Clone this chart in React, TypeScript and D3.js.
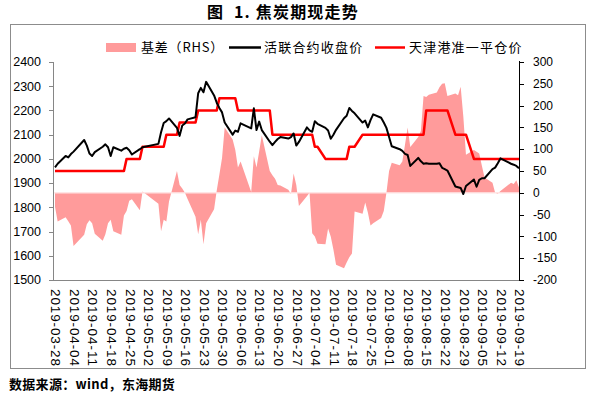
import React from 'react';
import * as d3 from 'd3';

const START = '2019-03-28';
const END = '2019-09-19';
const HOLIDAYS = ['2019-04-05', '2019-05-01', '2019-05-02', '2019-05-03', '2019-06-07', '2019-09-13'];

// 活跃合约收盘价 (one value per trading day)
const futuresClose = [
  1965, 1980,
  2012, 2006, 2020, 2030,
  2078, 2055, 2022, 2012, 2028,
  2050, 2060, 2048, 2012, 2048,
  2034, 2042, 2046, 2036, 2018,
  2040, 2048,
  2062, 2110, 2148, 2156, 2167,
  2128, 2095, 2138, 2146, 2163,
  2172, 2271, 2293, 2275, 2318,
  2262, 2232, 2210, 2192, 2150,
  2100, 2117, 2112, 2147,
  2126, 2209, 2119, 2154, 2119,
  2071, 2057, 2070, 2082, 2090,
  2084, 2090, 2105, 2055, 2070,
  2130, 2118, 2112, 2155, 2145,
  2128, 2117, 2083, 2100, 2120,
  2168, 2178, 2210, 2198, 2188,
  2150, 2158, 2130, 2160, 2184,
  2170, 2150, 2128, 2090, 2052,
  2040, 2033, 2021, 2016, 1971,
  2004, 1990, 1980, 1982, 1980,
  1980, 1982, 1963, 1958, 1952,
  1886, 1883, 1880, 1855, 1888,
  1915, 1885, 1913, 1920, 1920,
  1958, 1964, 1982, 2002,
  1980, 1976, 1971, 1961,
];

// 天津港准一平仓价
const spotPrice = [
  1950, 1950,
  1950, 1950, 1950, 1950,
  1950, 1950, 1950, 1950, 1950,
  1950, 1950, 1950, 1950, 1950,
  1950, 1950, 2000, 2000, 2000,
  2000, 2050,
  2050, 2050, 2050, 2100, 2100,
  2100, 2150, 2150, 2150, 2150,
  2150, 2200, 2200, 2200, 2200,
  2200, 2200, 2250, 2250, 2250,
  2250, 2250, 2200, 2200,
  2200, 2200, 2200, 2200, 2200,
  2200, 2100, 2100, 2100, 2100,
  2100, 2100, 2100, 2100, 2100,
  2100, 2100, 2100, 2050, 2050,
  2000, 2000, 2000, 2000, 2000,
  2000, 2000, 2050, 2050, 2050,
  2100, 2100, 2100, 2100, 2100,
  2100, 2100, 2100, 2100, 2100,
  2100, 2100, 2100, 2100, 2100,
  2100, 2100, 2100, 2200, 2200,
  2200, 2200, 2200, 2200, 2200,
  2100, 2100, 2100, 2100, 2100,
  2000, 2000, 2000, 2000, 2000,
  2000, 2000, 2000, 2000,
  2000, 2000, 2000, 2000,
];

// 基差 (RHS)
const basis = [
  -32, -66,
  -56, -65, -75, -122,
  -96, -72, -63, -70, -94,
  -110, -95, -70, -62, -88,
  -96, -52, -42, -18, -15,
  -40, 3,
  -25, -88, -62, -66, -20,
  50, 18, 10, 0, -14,
  -55, -95, -62, -118, -70,
  -38, 5, 42, 80, 150,
  122, 98, 58, 72,
  2, 84, 58, 95, 132,
  50, 40, 32, 18, 17,
  7, -3, 44, 18, -30,
  -8, 0, -93, -100, -117,
  -118, -82, -100, -130, -165,
  -173, -160, -148, -139, -43,
  -48, -22, -45, -75, -70,
  -58, -42, 0, 50, 69,
  63, 72, 110, 150, 105,
  128, 142, 222, 220, 225,
  230, 242, 250, 251, 222,
  228, 224, 243, 175, 87,
  98, 94, 90, 62, 35,
  23, 0, -2, 4,
  23, 20, 29, 12,
];

const xTickLabels = [
  '2019-03-28', '2019-04-04', '2019-04-11', '2019-04-18', '2019-04-25', '2019-05-02',
  '2019-05-09', '2019-05-16', '2019-05-23', '2019-05-30', '2019-06-06', '2019-06-13',
  '2019-06-20', '2019-06-27', '2019-07-04', '2019-07-11', '2019-07-18', '2019-07-25',
  '2019-08-01', '2019-08-08', '2019-08-15', '2019-08-22', '2019-08-29', '2019-09-05',
  '2019-09-12', '2019-09-19',
];
const leftTicks = [1500, 1600, 1700, 1800, 1900, 2000, 2100, 2200, 2300, 2400];
const rightTicks = [-200, -150, -100, -50, 0, 50, 100, 150, 200, 250, 300];

const parse = d3.utcParse('%Y-%m-%d');
const fmt = d3.utcFormat('%Y-%m-%d');

function tradingDays(): Date[] {
  const all = d3.utcDay.range(parse(START)!, d3.utcDay.offset(parse(END)!, 1));
  return all.filter((d) => d.getUTCDay() !== 0 && d.getUTCDay() !== 6 && !HOLIDAYS.includes(fmt(d)));
}

const NUM_FONT = '"Liberation Sans", Arial, sans-serif';
const CJK_FONT = '"Noto Sans CJK SC", "Noto Sans", sans-serif';

export default function App() {
  const days = tradingDays();
  const n = Math.min(days.length, futuresClose.length, spotPrice.length, basis.length);
  const rows = d3.range(n).map((i) => ({
    date: days[i],
    fut: futuresClose[i],
    spot: spotPrice[i],
    basis: basis[i],
  }));

  const plotLeft = 53;
  const plotRight = 519;
  const plotTop = 62;
  const plotBottom = 280;

  const x = d3.scaleUtc().domain([parse(START)!, parse(END)!]).range([55, 519]);
  const yL = d3.scaleLinear().domain([1500, 2400]).range([plotBottom, plotTop]);
  const yR = d3.scaleLinear().domain([-200, 300]).range([plotBottom, plotTop]);

  const area = d3
    .area<typeof rows[number]>()
    .x((d) => x(d.date))
    .y0(yR(0))
    .y1((d) => yR(d.basis));
  const futLine = d3
    .line<typeof rows[number]>()
    .x((d) => x(d.date))
    .y((d) => yL(d.fut));
  const spotLine = d3
    .line<typeof rows[number]>()
    .x((d) => x(d.date))
    .y((d) => yL(d.spot));

  return (
    <svg
      width={591}
      height={393}
      style={{ position: 'absolute', left: 0, top: 0, background: '#fff' }}
      xmlns="http://www.w3.org/2000/svg"
    >
      <rect x={0} y={0} width={591} height={393} fill="#fff" />
      {/* title */}
      <text
        x={283}
        y={18}
        textAnchor="middle"
        fontFamily={CJK_FONT}
        fontSize={16}
        fontWeight="bold"
        letterSpacing={1.2}
        fill="#000"
        style={{ whiteSpace: 'pre' }}
      >
        {'图  1. 焦炭期现走势'}
      </text>
      {/* frame */}
      <rect x={10.5} y={24.5} width={575} height={344} fill="none" stroke="#8c8c8c" strokeWidth={1} />

      {/* legend */}
      <rect x={106} y={43} width={30} height={9} fill="#ff9b9b" />
      <text x={141} y={52} fontFamily={CJK_FONT} fontSize={13} letterSpacing={0.8} fill="#000">
        基差（RHS）
      </text>
      <line x1={229} x2={261} y1={47.5} y2={47.5} stroke="#000" strokeWidth={2.5} />
      <text x={264} y={52} fontFamily={CJK_FONT} fontSize={13} letterSpacing={1.2} fill="#000">
        活联合约收盘价
      </text>
      <line x1={375} x2={405} y1={47.5} y2={47.5} stroke="#ff0000" strokeWidth={2.5} />
      <text x={409} y={52} fontFamily={CJK_FONT} fontSize={13} letterSpacing={1.2} fill="#000">
        天津港准一平仓价
      </text>

      {/* basis area */}
      <path d={area(rows) || ''} fill="#ff9b9b" stroke="none" />
      <line x1={plotLeft} x2={plotRight} y1={yR(0)} y2={yR(0)} stroke="#ffe4e4" strokeWidth={1.2} />

      {/* lines */}
      <path d={spotLine(rows) || ''} fill="none" stroke="#ff0000" strokeWidth={2.5} strokeLinejoin="round" />
      <path d={futLine(rows) || ''} fill="none" stroke="#000" strokeWidth={2} strokeLinejoin="round" />

      {/* left axis */}
      <line x1={plotLeft + 0.5} x2={plotLeft + 0.5} y1={plotTop} y2={plotBottom + 0.5} stroke="#868686" />
      {leftTicks.map((t) => (
        <g key={'l' + t}>
          <line x1={plotLeft - 4} x2={plotLeft} y1={Math.round(yL(t)) + 0.5} y2={Math.round(yL(t)) + 0.5} stroke="#868686" />
          <text
            x={plotLeft - 12}
            y={yL(t)}
            dy="0.35em"
            textAnchor="end"
            fontFamily={NUM_FONT}
            fontSize={12.5}
            fill="#000"
          >
            {t}
          </text>
        </g>
      ))}
      {/* bottom axis */}
      <line x1={plotLeft} x2={plotRight} y1={plotBottom + 0.5} y2={plotBottom + 0.5} stroke="#868686" />
      {xTickLabels.map((s) => {
        const px = x(parse(s)!) + 1;
        return (
          <text
            key={s}
            transform={`translate(${px},${plotBottom + 9}) rotate(90)`}
            dy="0.35em"
            fontFamily={NUM_FONT}
            fontSize={13.5}
            textLength={77}
            lengthAdjust="spacing"
            fill="#000"
          >
            {s}
          </text>
        );
      })}
      {/* right axis */}
      <line x1={plotRight + 0.5} x2={plotRight + 0.5} y1={plotTop - 1} y2={plotBottom + 0.5} stroke="#000" />
      {rightTicks.map((t) => (
        <g key={'r' + t}>
          <line x1={plotRight} x2={plotRight + 5} y1={Math.round(yR(t)) + 0.5} y2={Math.round(yR(t)) + 0.5} stroke="#000" />
          <text
            x={plotRight + 14}
            y={yR(t)}
            dy="0.35em"
            textAnchor="start"
            fontFamily={NUM_FONT}
            fontSize={12}
            fill="#000"
          >
            {t}
          </text>
        </g>
      ))}

      {/* footer */}
      <text x={9} y={389} fontFamily={CJK_FONT} fontSize={13} fontWeight="bold" letterSpacing={0.3} fill="#000">
        数据来源：wind，东海期货
      </text>
    </svg>
  );
}
